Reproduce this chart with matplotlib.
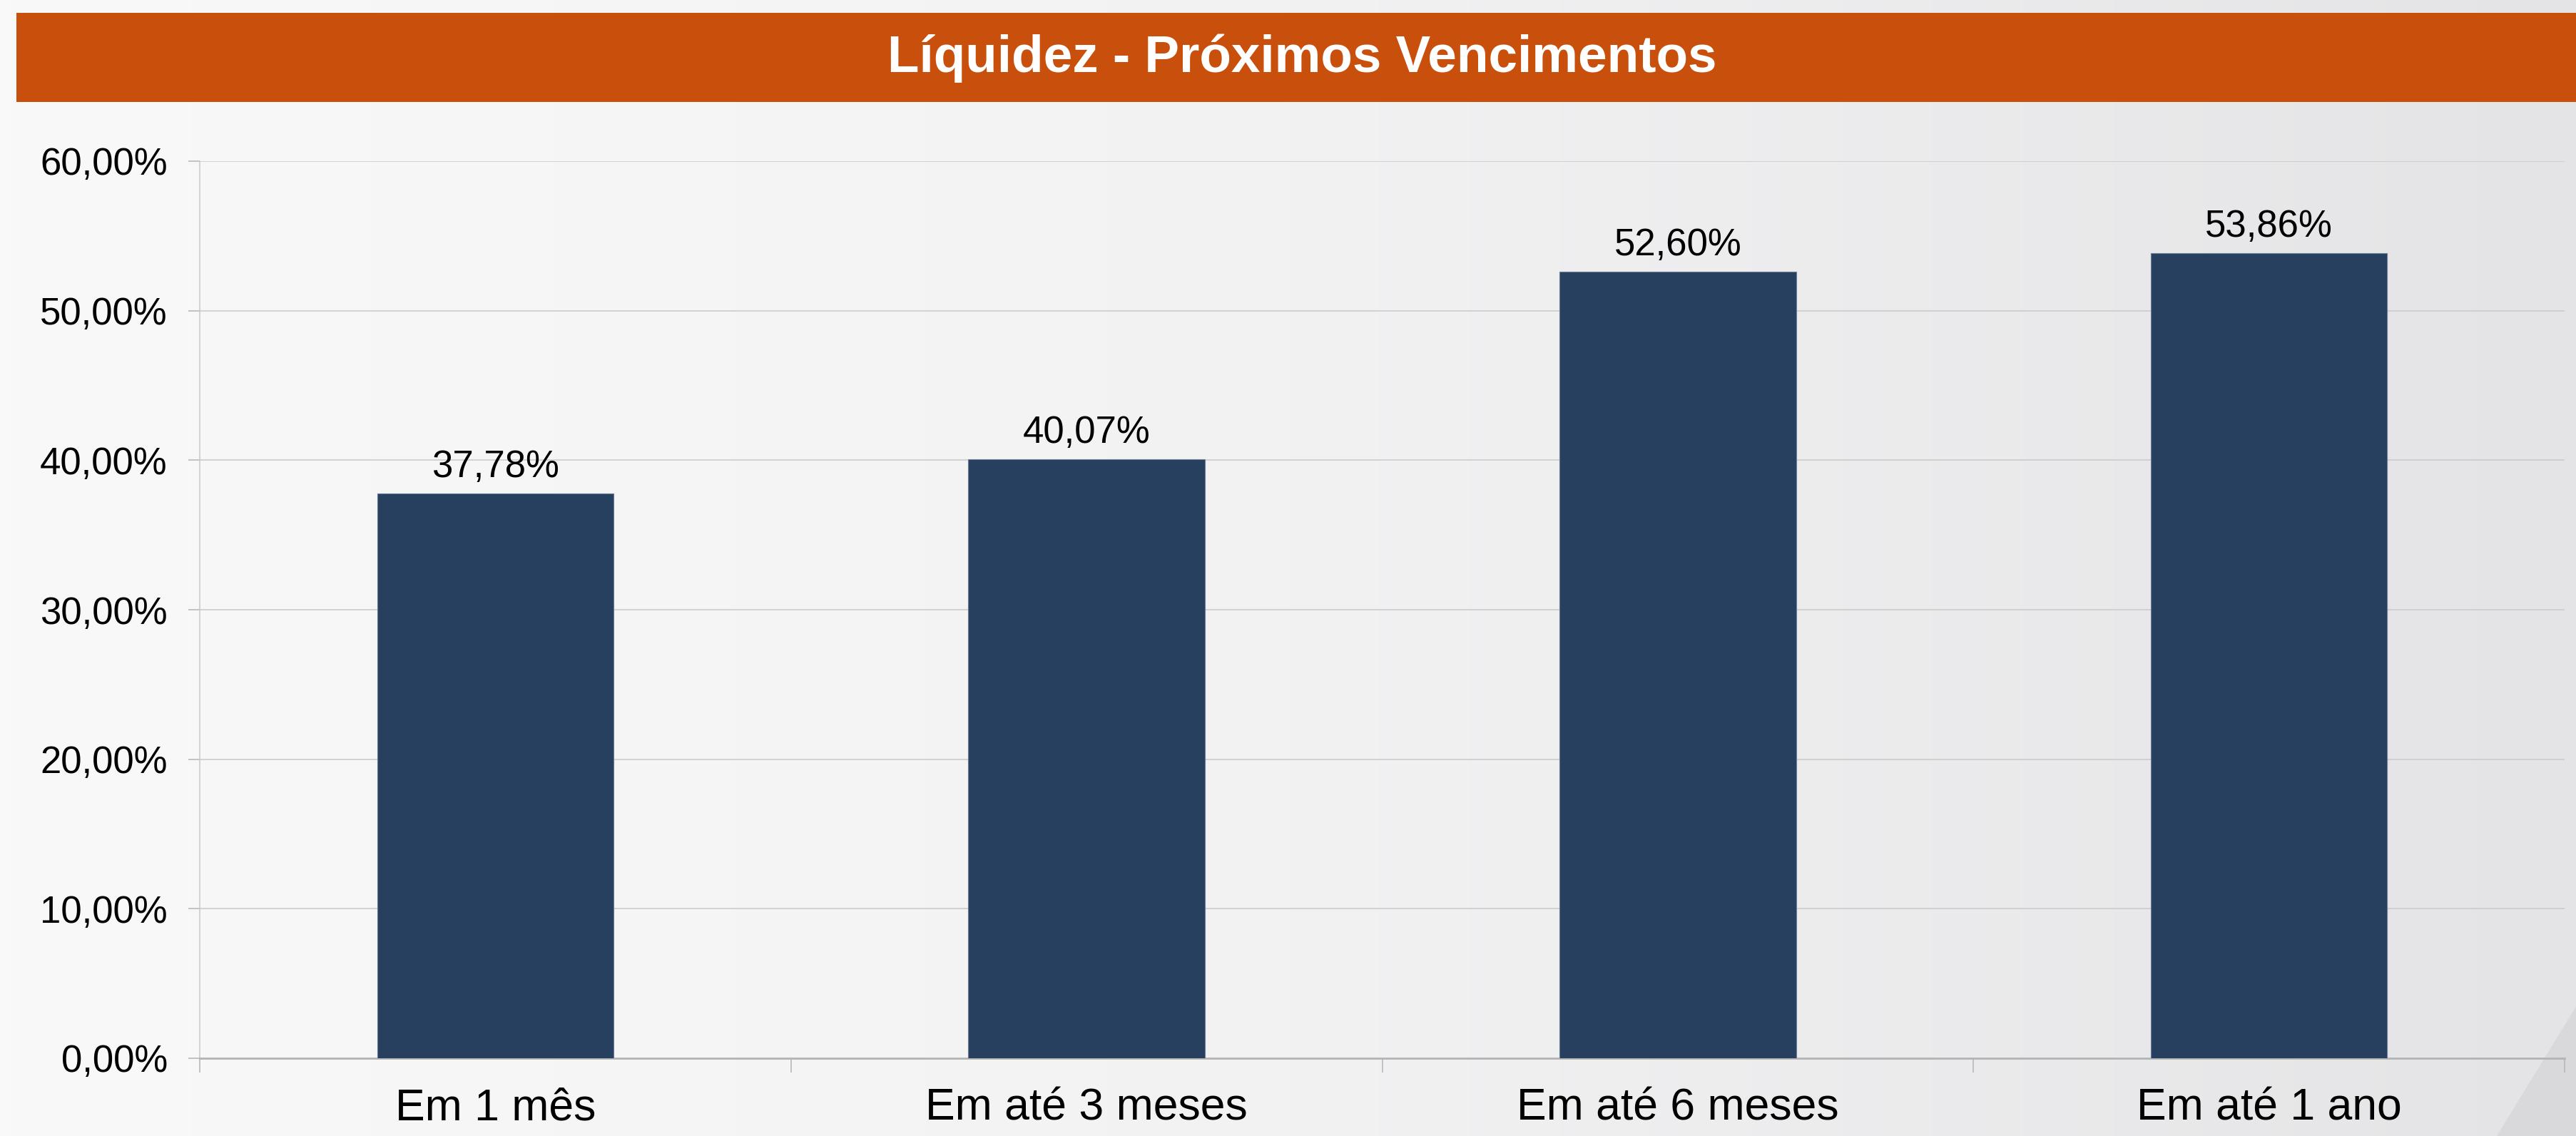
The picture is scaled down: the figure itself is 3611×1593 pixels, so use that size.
import numpy as np
import matplotlib
matplotlib.use('Agg')
import matplotlib.pyplot as plt
from matplotlib.patches import Rectangle, Polygon
from matplotlib.ticker import FixedLocator, FuncFormatter

# chart data
categorias = ['Em 1 mês', 'Em até 3 meses', 'Em até 6 meses', 'Em até 1 ano']
liquidez = [37.78, 40.07, 52.60, 53.86]
y_ticks = [0, 10, 20, 30, 40, 50, 60]
titulo = 'Líquidez - Próximos Vencimentos'

plt.rcParams['font.family'] = ['Liberation Sans', 'DejaVu Sans']

W, H = 3612, 1593
fig = plt.figure(figsize=(W / 100, H / 100), dpi=100)

# background gradient, light on the left and a bit darker on the right
bg = fig.add_axes([0, 0, 1, 1], zorder=-10)
grad = np.linspace(0, 1, 256).reshape(1, -1)
from matplotlib.colors import LinearSegmentedColormap
cmap = LinearSegmentedColormap.from_list('bg', ['#f9f9f9', '#f2f2f3', '#e4e4e6'])
bg.imshow(grad, aspect='auto', cmap=cmap, extent=[0, 1, 0, 1])
bg.add_patch(Polygon([[3500 / W, 0], [1, 0], [1, 183 / H]], closed=True,
                     facecolor='#d9d9db', edgecolor='none'))
bg.set_xlim(0, 1)
bg.set_ylim(0, 1)
bg.axis('off')

# title bar
fig.patches.append(Rectangle((23 / W, 1450 / H), 1 - 23 / W, 125 / H,
                             transform=fig.transFigure, facecolor='#c94f0c',
                             edgecolor='none', zorder=1))
fig.text(1825 / W, 1492 / H, titulo, color='white', fontsize=52.5,
         fontweight='bold', ha='center', va='baseline', zorder=2)

ax = fig.add_axes([280 / W, 109 / H, (3595 - 280) / W, (1484 - 226) / H])
ax.patch.set_alpha(0)

x = np.arange(len(categorias))
ax.bar(x, liquidez, width=0.40, color='#27405f', edgecolor='#6a7c94',
       linewidth=0.8, zorder=3)

for xi, v in zip(x, liquidez):
    ax.annotate(f'{v:.2f}'.replace('.', ',') + '%', (xi, v),
                xytext=(0, 16.5), textcoords='offset points',
                ha='center', va='baseline', fontsize=38, color='black')

ax.set_xlim(-0.5, len(categorias) - 0.5)
ax.set_ylim(0, 60)
ax.set_yticks(y_ticks)
ax.yaxis.set_major_formatter(FuncFormatter(lambda v, p: f'{v:.2f}'.replace('.', ',') + '%'))
ax.tick_params(axis='y', length=11.5, width=1.1, color='#b4b4b4',
               pad=21, labelsize=38, labelcolor='black')

ax.set_xticks(x)
ax.set_xticklabels(categorias)
ax.xaxis.set_minor_locator(FixedLocator(np.arange(-0.5, len(categorias), 1.0)))
ax.tick_params(axis='x', which='major', length=0, pad=29.5, labelsize=45,
               labelcolor='black')
ax.tick_params(axis='x', which='minor', length=14.4, width=1.1, color='#b4b4b4')

ax.grid(axis='y', color='#c9c9c9', linewidth=1.1, zorder=0)
ax.set_axisbelow(True)
for s in ['top', 'right']:
    ax.spines[s].set_visible(False)
ax.spines['left'].set_color('#c9c9c9')
ax.spines['left'].set_linewidth(1.1)
ax.spines['bottom'].set_color('#b4b4b4')
ax.spines['bottom'].set_linewidth(2)

fig.savefig('out.png', dpi=100)
